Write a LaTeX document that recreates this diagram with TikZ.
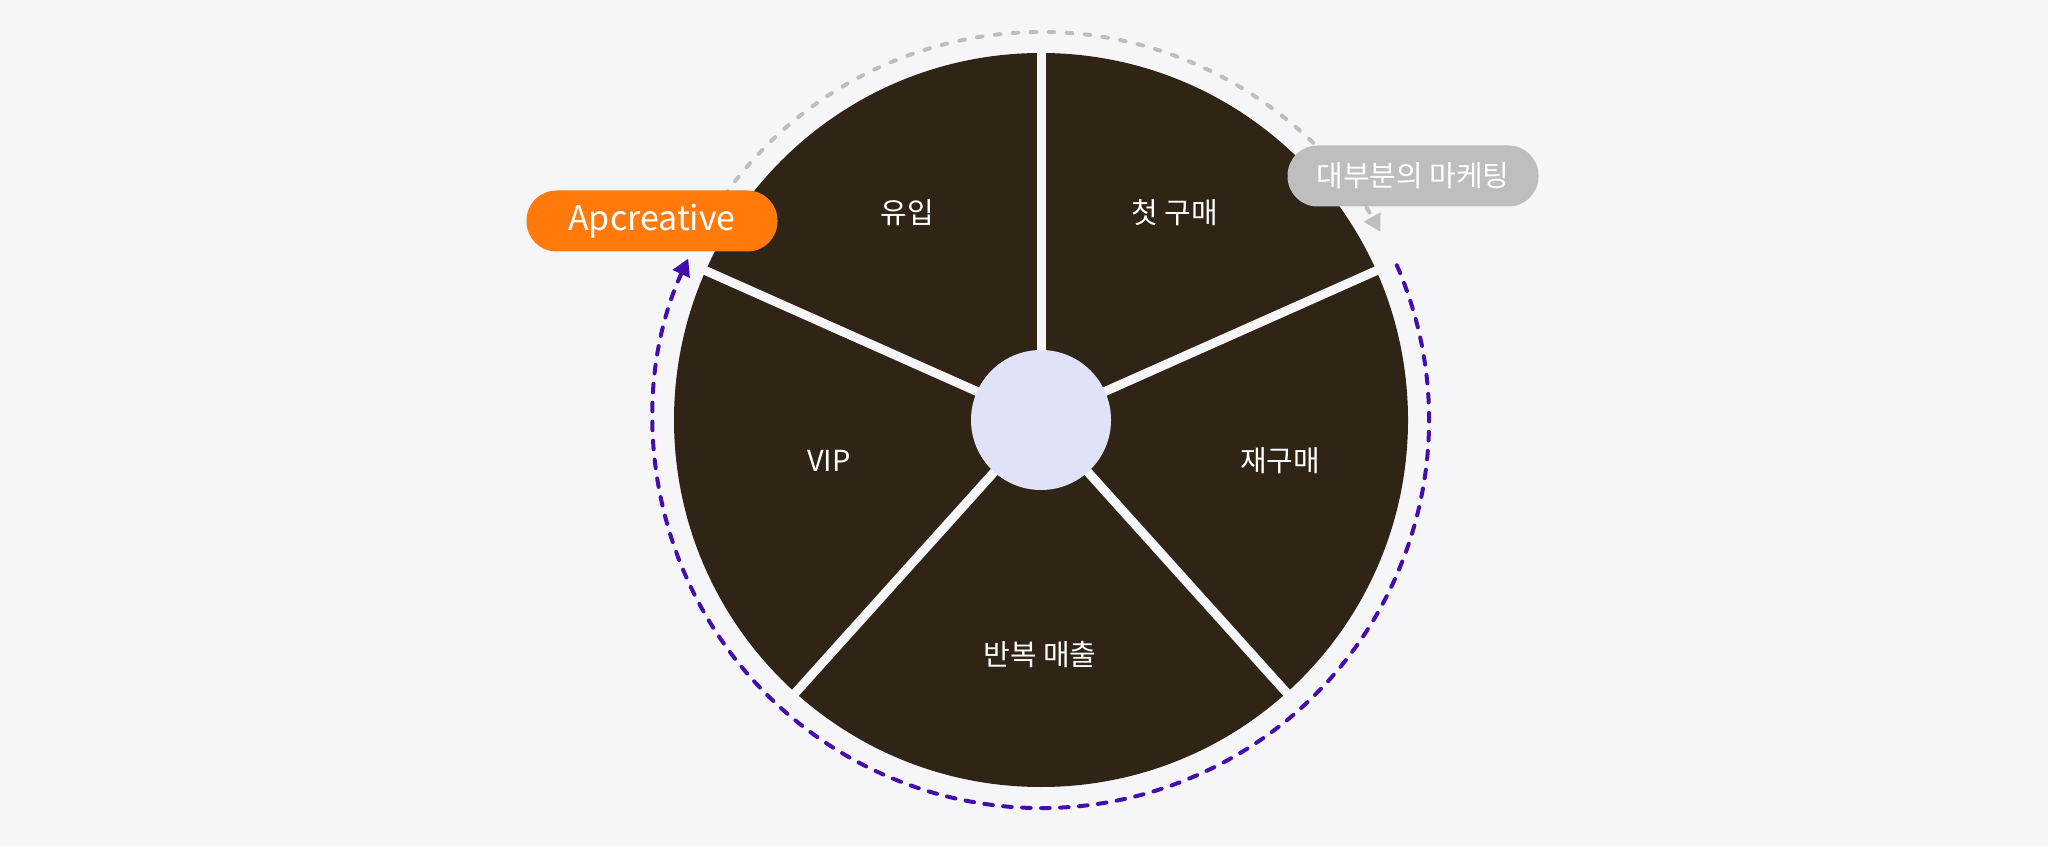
\documentclass[tikz,border=0pt]{standalone}
\definecolor{PageBg}{RGB}{246, 246, 249}
\definecolor{WheelBrown}{RGB}{47, 36, 21}
\definecolor{HubLilac}{RGB}{224, 227, 248}
\definecolor{ApOrange}{RGB}{255, 122, 10}
\definecolor{PillGrey}{RGB}{190, 190, 190}
\definecolor{LoopPurple}{RGB}{69, 13, 170}
\usepackage{fontspec}
\setmainfont{Noto Sans CJK KR}
\usepackage{tikz}
\usetikzlibrary{arrows.meta, positioning}
\tikzset{
  stagelabel/.style={text=white, font=\fontsize{14.5}{17}\selectfont},
  pill/.style={rounded corners=15pt, minimum width=125.5pt, minimum height=30.5pt, inner sep=0pt, text=white},
  loopline/.style={line width=2pt, line cap=round},
}

\begin{document}
\begin{tikzpicture}[x=0.5pt, y=0.5pt]
    \fill[PageBg] (0,0) rectangle (2048,846);
    \useasboundingbox (0,0) rectangle (2048,846);
    \coordinate (c) at (1041,426);

    \fill[WheelBrown] (c) circle[radius=367];
    \foreach \a in {90,24,-48,-132,156}
      \draw[PageBg, line width=4.5pt] (c) -- ++(\a:375);
    \node[circle, fill=HubLilac, minimum size=70pt, inner sep=0pt] (hub) at (c) {};

    \node[stagelabel] (inflow) at (907,633) {유입};
    \node[stagelabel] (firstbuy) at (1175,633) {첫 구매};
    \node[stagelabel] (rebuy) at (1280,385) {재구매};
    \node[stagelabel] (revenue) at (1040,191) {반복 매출};
    \node[stagelabel] (vip) at (829,385) {VIP};

    \draw[loopline, PillGrey, dash pattern=on 2.8pt off 6.2pt, -{Triangle[length=8.5pt, width=9pt]}] ([shift={(150:388)}]c) arc[start angle=150, end angle=29, radius=388];
    \draw[loopline, LoopPurple, dash pattern=on 4.3pt off 5.2pt, -{Triangle[length=8.5pt, width=9pt]}] ([shift={(23.5:388)}]c) arc[start angle=23.5, end angle=-204.6, radius=388];

    \node[pill, fill=ApOrange, font=\fontsize{17}{19}\selectfont] (apcreative) at (652,625) {Apcreative};
    \node[pill, fill=PillGrey, font=\fontsize{14.5}{17}\selectfont] (mostmkt) at (1413,670) {대부분의 마케팅};
  \end{tikzpicture}
\end{document}
